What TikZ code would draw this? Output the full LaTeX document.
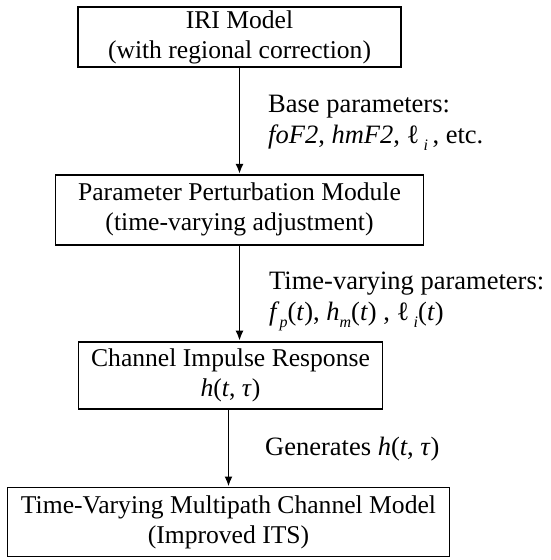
\documentclass[tikz,border=0pt]{standalone}
\usepackage{fontspec}
\setmainfont{Liberation Serif}
\usetikzlibrary{arrows.meta,positioning}
\newcommand\sbs[1]{\raisebox{-0.3em}{\fontsize{16}{16}\selectfont\itshape #1}}

\begin{document}
\begin{tikzpicture}[>={Latex[length=10pt,width=8pt]},x=1pt,y=1pt,
  box/.style={draw,line width=1.8pt,inner sep=0pt,align=center,font=\fontsize{25.6}{30}\selectfont},
  lbl/.style={align=left,anchor=base west,inner sep=0pt,font=\fontsize{26.5}{31}\selectfont}]
  \useasboundingbox (0,0) rectangle (550,-560);
  \node[box,minimum width=323pt,minimum height=60pt] (iri) at (239.5,-37)
    {IRI Model\\(with regional correction)};
  \node[box,minimum width=368pt,minimum height=70pt,below=106pt of iri] (ppm)
    {Parameter Perturbation Module\\(time-varying adjustment)};
  \node[box,minimum width=304pt,minimum height=67pt,below=95pt of ppm,xshift=-9pt] (cir)
    {Channel Impulse Response\\\textit{h}(\textit{t}, \textit{τ})};
  \node[box,minimum width=442pt,minimum height=69pt,below=77pt of cir,xshift=-2pt] (its)
    {Time-Varying Multipath Channel Model\\(Improved ITS)};
  \draw[line width=1.8pt,->] (iri) -- (ppm);
  \draw[line width=1.8pt,->] (ppm.south) -- (ppm.south |- cir.north);
  \draw[line width=1.8pt,->] (its.north |- cir.south) -- (its.north);
  \node[lbl] (base) at (268,-143)
    {Base parameters:\\\textit{foF2}, \textit{hmF2}, ℓ\,\sbs{i}\,, etc.};
  \node[lbl] (tvp) at (269,-320)
    {Time-varying parameters:\\\textit{f}\sbs{p}(\textit{t}), \textit{h}\sbs{m}(\textit{t}) , ℓ\,\sbs{i}(\textit{t})};
  \node[lbl] (gen) at (265,-455) {Generates \textit{h}(\textit{t}, \textit{τ})};
\end{tikzpicture}
\end{document}
